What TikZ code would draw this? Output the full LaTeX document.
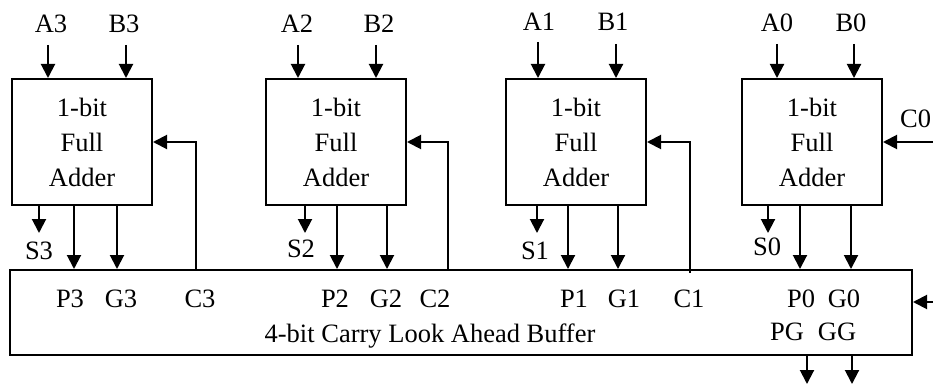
\documentclass[tikz,border=0pt]{standalone}
\usepackage{fontspec}
\setmainfont{Liberation Serif}
\usetikzlibrary{arrows.meta}
\begin{document}
\begin{tikzpicture}[x=1pt,y=-1pt,
  line width=2pt,
  arr/.style={-{Triangle[length=14pt,width=14pt]}},
  lbl/.style={anchor=base,inner sep=0pt,font=\fontsize{26.5}{31}\selectfont},
  fabox/.style={draw,minimum width=140pt,minimum height=126pt,inner sep=0pt,
    align=center,font=\fontsize{26.5}{35}\selectfont},
  bufbox/.style={draw,minimum width=902pt,minimum height=85pt,inner sep=0pt}]
\useasboundingbox (0,0) rectangle (933,385);

% full adder cells
\node[fabox] (fa3) at (82,142) {1-bit\\Full\\Adder};
\node[fabox] (fa2) at (336,142) {1-bit\\Full\\Adder};
\node[fabox] (fa1) at (576,142) {1-bit\\Full\\Adder};
\node[fabox] (fa0) at (812,142) {1-bit\\Full\\Adder};

% carry look-ahead unit
\node[bufbox] (buf) at (461,312.5) {};

% operand inputs
\node[lbl] (la3) at (51,33) {A3};
\node[lbl] (lb3) at (124,33) {B3};
\node[lbl] (la2) at (297,33) {A2};
\node[lbl] (lb2) at (379,33) {B2};
\node[lbl] (la1) at (539,31) {A1};
\node[lbl] (lb1) at (613,31) {B1};
\node[lbl] (la0) at (777,32) {A0};
\node[lbl] (lb0) at (851,32) {B0};
\coordinate (ia3) at (48,45);
\coordinate (ib3) at (126,45);
\coordinate (ia2) at (298,45);
\coordinate (ib2) at (376,45);
\coordinate (ia1) at (538,42);
\coordinate (ib1) at (616,44);
\coordinate (ia0) at (777,44);
\coordinate (ib0) at (854,44);
\foreach \p/\f in {ia3/fa3,ib3/fa3,ia2/fa2,ib2/fa2,ia1/fa1,ib1/fa1,ia0/fa0,ib0/fa0}
  \draw[arr] (\p) -- (\p |- \f.north);

% sum outputs
\coordinate (os3) at (39,233);
\coordinate (os2) at (305,233);
\coordinate (os1) at (537,233);
\coordinate (os0) at (768,233);
\foreach \p/\f in {os3/fa3,os2/fa2,os1/fa1,os0/fa0}
  \draw[arr] (\p |- \f.south) -- (\p);
\node[lbl] (ls3) at (39,259) {S3};
\node[lbl] (ls2) at (301,257) {S2};
\node[lbl] (ls1) at (535,259) {S1};
\node[lbl] (ls0) at (767,255) {S0};

% propagate / generate signals
\coordinate (p3) at (74,0);
\coordinate (g3) at (117,0);
\coordinate (p2) at (337,0);
\coordinate (g2) at (387,0);
\coordinate (p1) at (568,0);
\coordinate (g1) at (618,0);
\coordinate (p0) at (800,0);
\coordinate (g0) at (851,0);
\foreach \p/\f in {p3/fa3,g3/fa3,p2/fa2,g2/fa2,p1/fa1,g1/fa1,p0/fa0,g0/fa0}
  \draw[arr] (\p |- \f.south) -- (\p |- buf.north);

% carries fed back into the cells
\coordinate (c3) at (196,270);
\coordinate (c2) at (448,270);
\coordinate (c1) at (690,273);
\draw[arr] (c3) |- (fa3.east);
\draw[arr] (c2) |- (fa2.east);
\draw[arr] (c1) |- (fa1.east);

% carry in
\coordinate (c0in) at (933,142);
\draw[arr] (c0in) -- (fa0.east);
\node[lbl,anchor=base east] (lc0) at (932,128) {C0};
\coordinate (bufin) at (933,302);
\draw[arr] (bufin) -- (bufin -| buf.east);

% group outputs
\coordinate (opg) at (807,384);
\coordinate (ogg) at (852,384);
\draw[arr] (opg |- buf.south) -- (opg);
\draw[arr] (ogg |- buf.south) -- (ogg);

% labels inside the look-ahead unit
\node[lbl] (tp3) at (70,307) {P3};
\node[lbl] (tg3) at (121,307) {G3};
\node[lbl] (tc3) at (200,307) {C3};
\node[lbl] (tp2) at (335,307) {P2};
\node[lbl] (tg2) at (386,307) {G2};
\node[lbl] (tc2) at (435,307) {C2};
\node[lbl] (tp1) at (574,307) {P1};
\node[lbl] (tg1) at (624,307) {G1};
\node[lbl] (tc1) at (689,307) {C1};
\node[lbl] (tp0) at (801,307) {P0};
\node[lbl] (tg0) at (844,307) {G0};
\node[lbl] (tpg) at (787,340) {PG};
\node[lbl] (tgg) at (837,340) {GG};
\node[lbl] (tname) at (430,342) {4-bit Carry Look Ahead Buffer};
\end{tikzpicture}
\end{document}
